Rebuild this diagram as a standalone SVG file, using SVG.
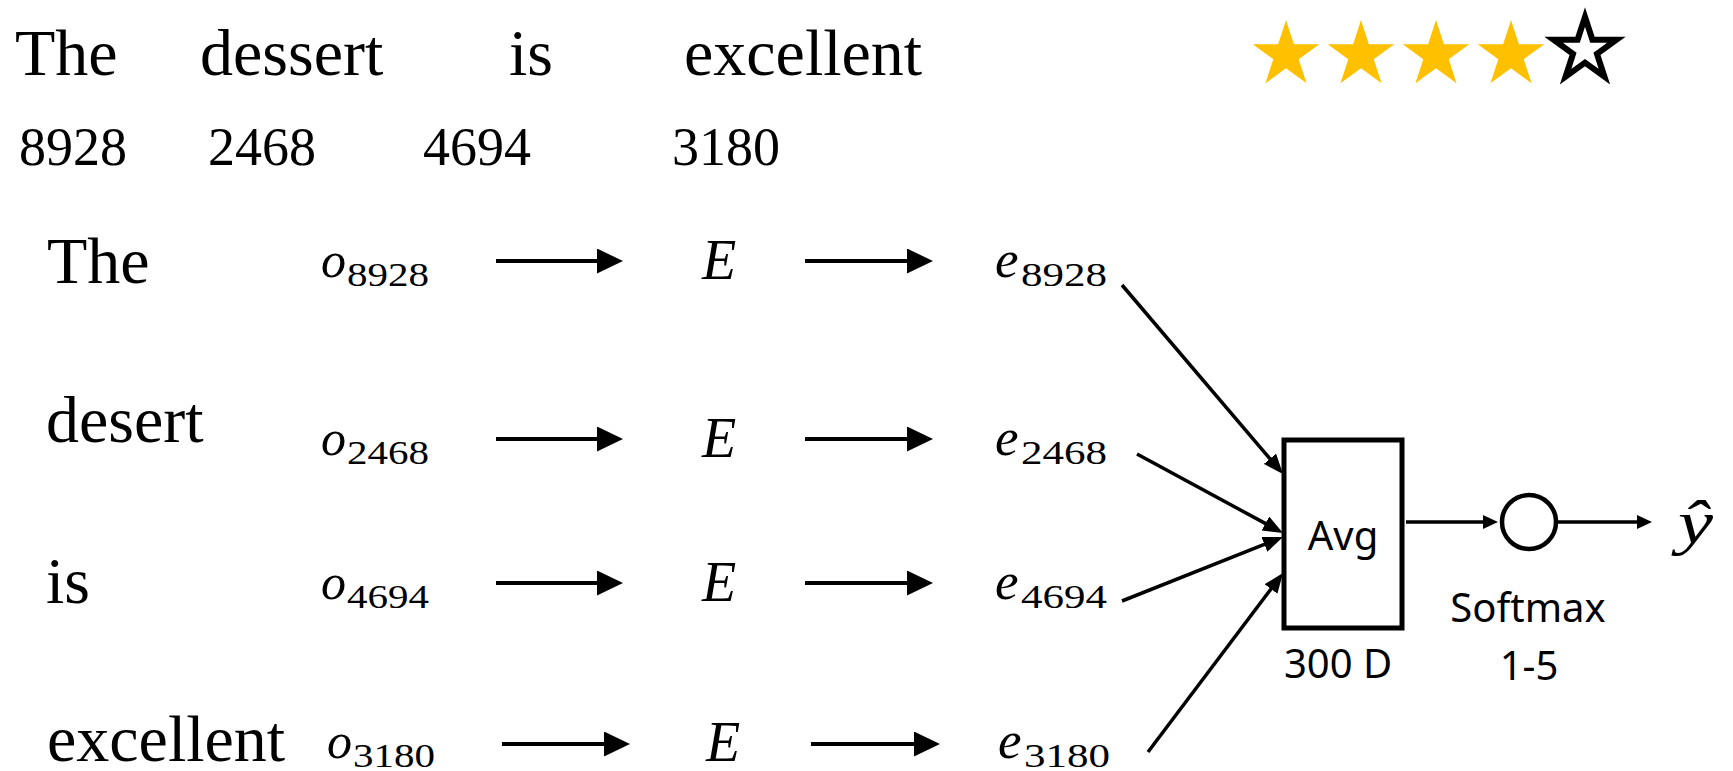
<svg xmlns="http://www.w3.org/2000/svg" xmlns:xlink="http://www.w3.org/1999/xlink" width="1733" height="771" viewBox="0 0 1733 771">
<style>
.w{font-family:"Liberation Serif",serif;font-size:66px;fill:#000}
.num{font-family:"Liberation Serif",serif;font-size:54px;fill:#000}
.it{font-family:"Liberation Serif",serif;font-style:italic;fill:#000}
.o{font-size:50px}
.e{font-size:53px}
.E{font-size:56px}
.sub{font-family:"Liberation Serif",serif;font-size:33px;fill:#000}
.sans{font-family:"Noto Sans","Liberation Sans",sans-serif;font-size:40px;fill:#000}
.ln{stroke:#000;stroke-width:4;fill:none}
.thin{stroke:#000;stroke-width:3.5;fill:none}
.gold{fill:#FFC000}
</style>
<defs>
<polygon id="star" points="0,-35 7.86,-10.82 33.29,-10.82 12.72,4.13 20.57,28.32 0,13.37 -20.57,28.32 -12.72,4.13 -33.29,-10.82 -7.86,-10.82"/>
<marker id="ah" markerUnits="userSpaceOnUse" markerWidth="26" markerHeight="25" refX="4" refY="12.5" orient="auto"><path d="M0,0 L26,12.5 L0,25 z" fill="#000"/></marker>
<marker id="ahs" markerUnits="userSpaceOnUse" markerWidth="20" markerHeight="16" refX="4" refY="8" orient="auto"><path d="M0,0 L20,8 L0,16 z" fill="#000"/></marker>
<marker id="aho" markerUnits="userSpaceOnUse" markerWidth="15" markerHeight="14" refX="3" refY="7" orient="auto"><path d="M0,0 L15,7 L0,14 z" fill="#000"/></marker>
</defs>
<rect width="1733" height="771" fill="#fff"/>

<g id="sentence">
<text class="w" x="15" y="75">The</text>
<text class="w" x="200" y="75">dessert</text>
<text class="w" x="509" y="75">is</text>
<text class="w" x="684" y="75">excellent</text>
</g>
<g id="indices">
<text class="num" x="19" y="165">8928</text>
<text class="num" x="208" y="165">2468</text>
<text class="num" x="423" y="165">4694</text>
<text class="num" x="672" y="165">3180</text>
</g>
<g id="rating">
<use xlink:href="#star" class="gold" transform="translate(1286,55)"/>
<use xlink:href="#star" class="gold" transform="translate(1361,55)"/>
<use xlink:href="#star" class="gold" transform="translate(1436,55)"/>
<use xlink:href="#star" class="gold" transform="translate(1511,55)"/>
<use xlink:href="#star" transform="translate(1585,50) scale(0.943)" fill="#fff" stroke="#000" stroke-width="6.4"/>
</g>

<g id="word1"><text class="w" x="47" y="283">The</text></g>
<g id="word2"><text class="w" x="46" y="442">desert</text></g>
<g id="word3"><text class="w" x="46" y="603">is</text></g>
<g id="word4"><text class="w" x="47" y="761">excellent</text></g>

<g id="o1"><text class="it o" x="321" y="277">o</text><text class="sub" x="347" y="286" textLength="82" lengthAdjust="spacingAndGlyphs">8928</text></g>
<g id="o2"><text class="it o" x="321" y="455">o</text><text class="sub" x="347" y="464" textLength="82" lengthAdjust="spacingAndGlyphs">2468</text></g>
<g id="o3"><text class="it o" x="321" y="599">o</text><text class="sub" x="347" y="608" textLength="82" lengthAdjust="spacingAndGlyphs">4694</text></g>
<g id="o4"><text class="it o" x="327" y="758">o</text><text class="sub" x="353" y="767" textLength="82" lengthAdjust="spacingAndGlyphs">3180</text></g>

<g id="E1"><text class="it E" x="702" y="279">E</text></g>
<g id="E2"><text class="it E" x="702" y="457">E</text></g>
<g id="E3"><text class="it E" x="702" y="601">E</text></g>
<g id="E4"><text class="it E" x="706" y="761">E</text></g>

<g id="e1"><text class="it e" x="995" y="277">e</text><text class="sub" x="1021" y="286" textLength="86" lengthAdjust="spacingAndGlyphs">8928</text></g>
<g id="e2"><text class="it e" x="995" y="455">e</text><text class="sub" x="1021" y="464" textLength="86" lengthAdjust="spacingAndGlyphs">2468</text></g>
<g id="e3"><text class="it e" x="995" y="599">e</text><text class="sub" x="1021" y="608" textLength="86" lengthAdjust="spacingAndGlyphs">4694</text></g>
<g id="e4"><text class="it e" x="998" y="758">e</text><text class="sub" x="1024" y="767" textLength="86" lengthAdjust="spacingAndGlyphs">3180</text></g>

<g id="avg">
<rect x="1284" y="440" width="118" height="188" fill="#fff" stroke="#000" stroke-width="5"/>
<text class="sans" x="1343" y="550" text-anchor="middle">Avg</text>
<text class="sans" x="1338" y="678" text-anchor="middle">300 D</text>
</g>
<g id="softmax">
<circle cx="1529" cy="522" r="27" fill="#fff" stroke="#000" stroke-width="4.5"/>
<text class="sans" x="1528" y="622" text-anchor="middle">Softmax</text>
<text class="sans" x="1529" y="680" text-anchor="middle">1-5</text>
</g>
<g id="yhat"><text class="it" x="1678" y="543" font-size="62" textLength="35" lengthAdjust="spacingAndGlyphs">ŷ</text></g>

<g id="connectors">
<line class="ln" x1="496" y1="261" x2="601" y2="261" marker-end="url(#ah)"/>
<line class="ln" x1="496" y1="439" x2="601" y2="439" marker-end="url(#ah)"/>
<line class="ln" x1="496" y1="583" x2="601" y2="583" marker-end="url(#ah)"/>
<line class="ln" x1="502" y1="744" x2="608" y2="744" marker-end="url(#ah)"/>
<line class="ln" x1="805" y1="261" x2="911" y2="261" marker-end="url(#ah)"/>
<line class="ln" x1="805" y1="439" x2="911" y2="439" marker-end="url(#ah)"/>
<line class="ln" x1="805" y1="583" x2="911" y2="583" marker-end="url(#ah)"/>
<line class="ln" x1="811" y1="744" x2="918" y2="744" marker-end="url(#ah)"/>
<line class="thin" x1="1122" y1="285" x2="1272.6" y2="461.8" marker-end="url(#ahs)"/>
<line class="thin" x1="1137" y1="454" x2="1268.9" y2="525.4" marker-end="url(#ahs)"/>
<line class="thin" x1="1122" y1="601" x2="1268.1" y2="542.9" marker-end="url(#ahs)"/>
<line class="thin" x1="1148" y1="752" x2="1273.4" y2="585.8" marker-end="url(#ahs)"/>
<line class="thin" x1="1406" y1="522" x2="1486" y2="522" marker-end="url(#aho)"/>
<line class="thin" x1="1558" y1="522" x2="1640" y2="522" marker-end="url(#aho)"/>
</g>
</svg>
